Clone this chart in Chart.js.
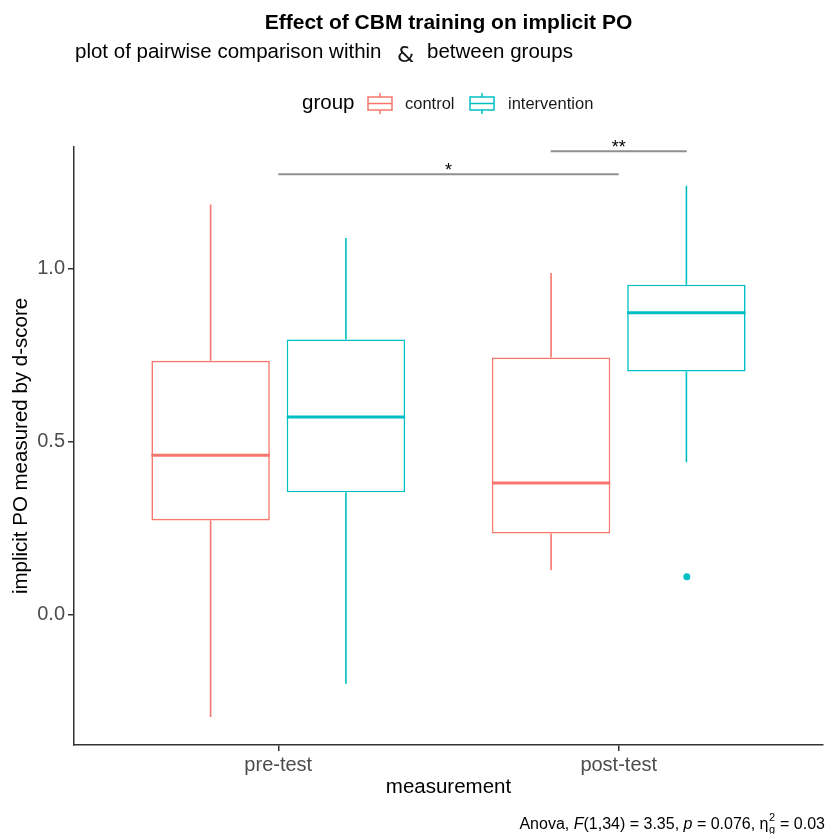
<!DOCTYPE html>
<html>
<head>
<meta charset="utf-8">
<script src="https://cdn.jsdelivr.net/npm/chart.js@4"></script>
<style>
  html, body { margin: 0; padding: 0; background: #fff; }
</style>
</head>
<body>
<canvas id="chart" width="827" height="834"></canvas>
<script>
// categories on the x axis
const measurements = ['pre-test', 'post-test'];
const xPos = [1, 2];
const groups = ['control', 'intervention'];
const groupColors = ['#F8766D', '#00BFC4'];

// box summaries (pre-test, post-test)
const controlLow = [-0.296, 0.128];
const controlQ1 = [0.272, 0.234];
const controlMedian = [0.460, 0.380];
const controlQ3 = [0.733, 0.743];
const controlHigh = [1.185, 0.987];

const interventionLow = [-0.200, 0.440];
const interventionQ1 = [0.353, 0.702];
const interventionMedian = [0.571, 0.872];
const interventionQ3 = [0.795, 0.953];
const interventionHigh = [1.088, 1.239];

// outlier of intervention at post-test
const outlierX = [2.2];
const outlierY = [0.109];

const yTicks = [0, 0.5, 1.0];

// significance brackets
const bracketFrom = [1, 1.8];
const bracketTo = [2, 2.2];
const bracketY = [1.272, 1.339];
const bracketText = ['*', '**'];

const FONT = 'Liberation Sans, Arial, Helvetica, sans-serif';
Chart.defaults.font.family = FONT;

const boxStats = [
  { low: controlLow, q1: controlQ1, med: controlMedian, q3: controlQ3, high: controlHigh },
  { low: interventionLow, q1: interventionQ1, med: interventionMedian, q3: interventionQ3, high: interventionHigh }
];

// whiskers and medians on top of the floating bars
const boxExtras = {
  id: 'boxExtras',
  afterDatasetsDraw(chart) {
    const ctx = chart.ctx;
    const y = chart.scales.y;
    ctx.save();
    boxStats.forEach((s, d) => {
      const meta = chart.getDatasetMeta(d);
      meta.data.forEach((bar, i) => {
        ctx.strokeStyle = groupColors[d];
        ctx.lineWidth = 1.6;
        ctx.beginPath();
        ctx.moveTo(bar.x, y.getPixelForValue(s.q3[i]));
        ctx.lineTo(bar.x, y.getPixelForValue(s.high[i]));
        ctx.moveTo(bar.x, y.getPixelForValue(s.q1[i]));
        ctx.lineTo(bar.x, y.getPixelForValue(s.low[i]));
        ctx.stroke();
        const m = y.getPixelForValue(s.med[i]);
        ctx.lineWidth = 3;
        ctx.beginPath();
        ctx.moveTo(bar.x - bar.width / 2, m);
        ctx.lineTo(bar.x + bar.width / 2, m);
        ctx.stroke();
      });
    });
    ctx.restore();
  }
};

// titles, legend, brackets and caption
const annotations = {
  id: 'annotations',
  afterDraw(chart) {
    const ctx = chart.ctx;
    const x = chart.scales.x, y = chart.scales.y;
    const area = chart.chartArea;
    ctx.save();

    // brackets
    ctx.strokeStyle = '#8f8f8f';
    ctx.lineWidth = 2;
    bracketY.forEach((v, i) => {
      const py = y.getPixelForValue(v);
      const x0 = x.getPixelForValue(bracketFrom[i]);
      const x1 = x.getPixelForValue(bracketTo[i]);
      ctx.beginPath();
      ctx.moveTo(x0, py);
      ctx.lineTo(x1, py);
      ctx.stroke();
      ctx.fillStyle = '#000';
      ctx.font = '18px ' + FONT;
      ctx.textAlign = 'center';
      ctx.textBaseline = 'alphabetic';
      ctx.fillText(bracketText[i], (x0 + x1) / 2, py + 2);
    });

    // title
    ctx.fillStyle = '#000';
    ctx.textAlign = 'center';
    ctx.textBaseline = 'alphabetic';
    ctx.font = 'bold 21px ' + FONT;
    ctx.fillText('Effect of CBM training on implicit PO', (area.left + area.right) / 2, 28.5);

    // subtitle
    ctx.textAlign = 'left';
    ctx.font = '20.5px ' + FONT;
    ctx.fillText('plot of pairwise comparison within', 75, 58);
    ctx.font = '22px DejaVu Sans, sans-serif';
    ctx.fillStyle = '#111';
    ctx.fillText('&', 397, 62);
    ctx.fillStyle = '#000';
    ctx.font = '20.5px ' + FONT;
    ctx.fillText('between groups', 427, 58);

    // legend
    ctx.font = '20.5px ' + FONT;
    ctx.fillText('group', 302, 109);
    const keyX = [368, 470];
    const textX = [405, 508];
    groups.forEach((g, i) => {
      const c = chart.data.datasets[i].borderColor;
      const kx = keyX[i];
      ctx.strokeStyle = c;
      ctx.lineWidth = 1.5;
      ctx.strokeRect(kx, 97, 24, 13);
      ctx.beginPath();
      ctx.moveTo(kx, 103.5); ctx.lineTo(kx + 24, 103.5);
      ctx.moveTo(kx + 12, 93); ctx.lineTo(kx + 12, 97);
      ctx.moveTo(kx + 12, 110); ctx.lineTo(kx + 12, 114);
      ctx.stroke();
      ctx.fillStyle = '#1a1a1a';
      ctx.font = '16.5px ' + FONT;
      ctx.fillText(g, textX[i], 109);
    });

    // caption
    const size = 16;
    const pieces = [
      ['Anova, ', ''], ['F', 'italic '], ['(1,34) = 3.35, ', ''], ['p', 'italic '],
      [' = 0.076, ', ''], ['\u03b7', ''], ['SUPSUB', ''], [' = 0.03', '']
    ];
    const small = 11;
    let total = 0;
    pieces.forEach(p => {
      if (p[0] === 'SUPSUB') { ctx.font = small + 'px ' + FONT; total += ctx.measureText('g').width + 1; }
      else { ctx.font = p[1] + size + 'px ' + FONT; total += ctx.measureText(p[0]).width; }
    });
    let cx = 825 - total;
    const base = 829;
    ctx.fillStyle = '#000';
    pieces.forEach(p => {
      if (p[0] === 'SUPSUB') {
        ctx.font = small + 'px ' + FONT;
        ctx.fillText('2', cx + 0.5, base - 8);
        ctx.fillText('g', cx + 0.5, base + 4);
        cx += ctx.measureText('g').width + 1;
      } else {
        ctx.font = p[1] + size + 'px ' + FONT;
        ctx.fillText(p[0], cx, base);
        cx += ctx.measureText(p[0]).width;
      }
    });

    ctx.restore();
  }
};

const ctx = document.getElementById('chart').getContext('2d');

new Chart(ctx, {
  type: 'bar',
  data: {
    datasets: [
      {
        label: groups[0],
        data: xPos.map((x, i) => ({ x: x, y: [controlQ1[i], controlQ3[i]] })),
        backgroundColor: '#ffffff',
        borderColor: groupColors[0],
        borderWidth: 1.6,
        borderSkipped: false,
        categoryPercentage: 0.795,
        barPercentage: 0.875
      },
      {
        label: groups[1],
        data: xPos.map((x, i) => ({ x: x, y: [interventionQ1[i], interventionQ3[i]] })),
        backgroundColor: '#ffffff',
        borderColor: groupColors[1],
        borderWidth: 1.6,
        borderSkipped: false,
        categoryPercentage: 0.795,
        barPercentage: 0.875
      },
      {
        type: 'scatter',
        label: 'outlier',
        data: outlierX.map((x, i) => ({ x: x, y: outlierY[i] })),
        backgroundColor: groupColors[1],
        borderColor: groupColors[1],
        pointRadius: 3.5,
        borderWidth: 0
      }
    ]
  },
  options: {
    responsive: false,
    animation: false,
    layout: { padding: { left: 9, right: 1, top: 147, bottom: 34 } },
    plugins: {
      legend: { display: false },
      tooltip: { enabled: false }
    },
    scales: {
      x: {
        type: 'linear',
        min: 0.4,
        max: 2.6,
        offset: false,
        afterBuildTicks: s => { s.ticks = xPos.map(v => ({ value: v })); },
        afterFit: s => { s.height = 55; },
        ticks: {
          callback: (v, i) => measurements[i],
          font: { size: 20 },
          color: '#4d4d4d',
          padding: 2,
          maxRotation: 0
        },
        grid: { drawOnChartArea: false, offset: false, tickLength: 6, color: '#333', lineWidth: 1.5 },
        border: { color: '#333', width: 1.5 },
        title: { display: true, text: 'measurement', font: { size: 20.5 }, color: '#000', padding: 0 }
      },
      y: {
        min: -0.377,
        max: 1.351,
        afterBuildTicks: s => { s.ticks = yTicks.map(v => ({ value: v })); },
        afterFit: s => { s.width = 65; },
        ticks: {
          callback: v => v.toFixed(1),
          font: { size: 20 },
          color: '#4d4d4d',
          padding: 3
        },
        grid: { drawOnChartArea: false, tickLength: 6, color: '#333', lineWidth: 1.5 },
        border: { color: '#333', width: 1.5 },
        title: { display: true, text: 'implicit PO measured by d-score', font: { size: 20.5 }, color: '#000', padding: 0 }
      }
    }
  },
  plugins: [boxExtras, annotations]
});
</script>
</body>
</html>
